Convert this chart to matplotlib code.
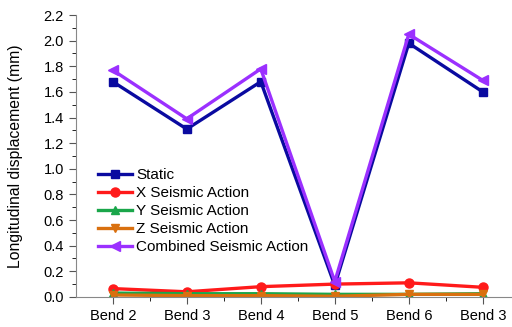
import matplotlib
matplotlib.use("Agg")
import matplotlib.pyplot as plt
from matplotlib.ticker import MultipleLocator, FixedLocator

plt.rcParams["font.family"] = ["Liberation Sans", "DejaVu Sans"]

bends = ["Bend 2", "Bend 3", "Bend 4", "Bend 5", "Bend 6", "Bend 3"]
static = [1.68, 1.31, 1.68, 0.09, 1.98, 1.60]
x_seis = [0.065, 0.04, 0.08, 0.10, 0.11, 0.075]
y_seis = [0.03, 0.025, 0.025, 0.02, 0.02, 0.025]
z_seis = [0.015, 0.01, 0.01, 0.005, 0.02, 0.02]
combined = [1.77, 1.39, 1.78, 0.12, 2.05, 1.69]

fig = plt.figure(figsize=(5.12, 3.27), dpi=100)
ax = fig.add_axes([0.148, 0.092, 0.86, 0.862])
pos = list(range(len(bends)))

ax.plot(pos, static, color="#0a0aa0", marker="s", ms=6, lw=2.4, label="Static")
ax.plot(pos, x_seis, color="#ff1a1a", marker="o", ms=6.5, lw=2.4, label="X Seismic Action")
ax.plot(pos, y_seis, color="#1aa64a", marker="^", ms=6, lw=2.4, label="Y Seismic Action")
ax.plot(pos, z_seis, color="#d9700f", marker="v", ms=6, lw=2.4, label="Z Seismic Action")
ax.plot(pos, combined, color="#9b30ff", marker="<", ms=6.5, lw=2.4, label="Combined Seismic Action")

ax.set_xlim(-0.5, 5.45)
ax.set_ylim(0, 2.2)
ax.set_xticks(pos)
ax.set_xticklabels(bends, fontsize=10.5)
ax.xaxis.set_minor_locator(FixedLocator([p + 0.5 for p in pos]))
ax.yaxis.set_major_locator(MultipleLocator(0.2))
ax.yaxis.set_minor_locator(MultipleLocator(0.1))
ax.yaxis.set_major_formatter(matplotlib.ticker.FormatStrFormatter("%.1f"))
ax.tick_params(labelsize=10.5, color="#555555", direction="out")
ax.tick_params(which="major", length=5)
ax.tick_params(which="minor", length=3)
ax.set_ylabel("Longitudinal displacement (mm)", fontsize=11.3, labelpad=15)
for s in ["top", "right"]:
    ax.spines[s].set_visible(False)
for s in ["left", "bottom"]:
    ax.spines[s].set_color("#888888")

ax.legend(loc="upper left", bbox_to_anchor=(0.03, 0.49), frameon=False, fontsize=11,
          handlelength=2.2, labelspacing=0.26, handletextpad=0.3, borderaxespad=0.2)

plt.savefig("out.png", dpi=100)
